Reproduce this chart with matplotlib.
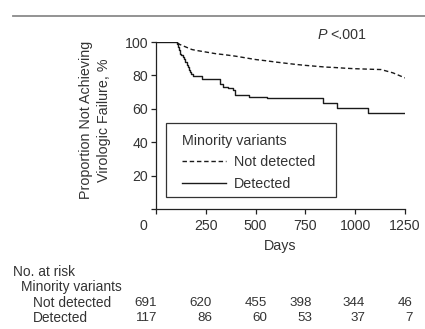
import matplotlib
matplotlib.use('Agg')
import matplotlib.pyplot as plt
from matplotlib.lines import Line2D
from matplotlib.patches import Rectangle
from matplotlib.transforms import ScaledTranslation

plt.rcParams['font.family'] = ['Liberation Sans', 'DejaVu Sans']

# Not detected (dashed) - proportion not failing, %
nd_days = [0, 100, 120, 140, 160, 180, 200, 250, 300, 350, 400, 450, 500, 550, 600,
           650, 700, 750, 800, 850, 900, 950, 1000, 1050, 1100, 1130, 1160, 1190, 1220, 1250]
nd_pct = [100, 100, 98.5, 97.5, 96.5, 95.5, 95, 94, 93, 92.3, 91.5, 90.5, 89.5, 88.8, 88,
          87.3, 86.6, 86, 85.5, 85, 84.7, 84.3, 84, 83.8, 83.6, 83.5, 82.5, 81.5, 80, 78.5]

# Detected (solid, step function)
d_days = [0, 107, 112, 117, 122, 128, 135, 142, 148, 154, 160, 166, 172, 178, 184,
          229, 320, 338, 363, 388, 397, 468, 556, 840, 907, 1066, 1250]
d_pct = [100, 99, 97, 95, 93, 92, 91, 90, 88, 86.5, 85, 83.5, 82, 81, 79.8,
         77.8, 75, 73.2, 72.3, 71.3, 68.3, 67.2, 66.2, 63.7, 60.3, 57.6, 57.6]

xticks = [0, 250, 500, 750, 1000, 1250]
yticks = [0, 20, 40, 60, 80, 100]
ytick_labels = ['', '20', '40', '60', '80', '100']

risk_nd = [691, 620, 455, 398, 344, 46]
risk_d = [117, 86, 60, 53, 37, 7]
risk_x_px = [157, 212, 267, 312, 365, 413]  # right edges of numbers

W, H = 425, 329
txt = '#333333'
fs_tick = 10.2
fs_lab = 10.3
fs_risk = 9.9
fs_num = 9.6
dash = (0, (3.2, 2.0))

fig = plt.figure(figsize=(W / 100, H / 100), dpi=100)
ax = fig.add_axes([156 / W, (H - 209) / H, 249 / W, 167 / H])

ax.plot(nd_days, nd_pct, color='#1a1a1a', lw=1.0, linestyle=dash)
ax.plot(d_days, d_pct, color='#1a1a1a', lw=1.0, drawstyle='steps-post')

ax.set_xlim(0, 1250)
ax.set_ylim(0, 100)
ax.set_xticks(xticks)
ax.set_yticks(yticks)
ax.set_yticklabels(ytick_labels)
ax.spines['top'].set_visible(False)
ax.spines['right'].set_visible(False)
for s in ['left', 'bottom']:
    ax.spines[s].set_color('#222222')
    ax.spines[s].set_linewidth(0.9)
ax.tick_params(direction='out', length=3.5, width=0.9, color='#222222',
               labelsize=fs_tick, labelcolor=txt, pad=2)
ax.tick_params(axis='x', pad=4)

# "0" label sits left of its tick in the original
lab0 = ax.get_xticklabels()[0]
lab0.set_transform(lab0.get_transform() + ScaledTranslation(-0.13, 0, fig.dpi_scale_trans))

ax.set_xlabel('Days', fontsize=fs_lab, color=txt, labelpad=4)

fig.text(86 / W, 1 - 120 / H, 'Proportion Not Achieving', rotation=90,
         ha='center', va='center', fontsize=fs_lab, color=txt)
fig.text(104 / W, 1 - 120 / H, 'Virologic Failure, %', rotation=90,
         ha='center', va='center', fontsize=fs_lab, color=txt)

fig.text(318 / W, 1 - 35 / H, 'P', style='italic', fontsize=fs_lab, color=txt,
         ha='left', va='center')
fig.text(330 / W, 1 - 35 / H, '<.001', fontsize=fs_lab, color=txt, ha='left', va='center')

# legend box drawn separately so the inner padding can match
ax.add_patch(Rectangle((10 / 249, 12 / 167), 170 / 249, 74 / 167, transform=ax.transAxes,
                       fill=False, edgecolor='#333333', lw=0.9, clip_on=False))
handles = [Line2D([], [], color='#1a1a1a', lw=1.0, linestyle=dash),
           Line2D([], [], color='#1a1a1a', lw=1.0)]
leg = ax.legend(handles, ['Not detected', 'Detected'], title='Minority variants',
                loc='upper left', bbox_to_anchor=(26 / 249, 75 / 167),
                borderaxespad=0, borderpad=0, frameon=False,
                fontsize=fs_lab, title_fontsize=fs_lab,
                handlelength=3.1, handletextpad=0.5, labelspacing=0.52,
                alignment='left')
for t in leg.get_texts():
    t.set_color(txt)
leg.get_title().set_color(txt)

# rule at top
fig.add_artist(Line2D([13 / W, 1], [1 - 16 / H, 1 - 16 / H], color='#8a8a8a', lw=1.3))

# risk table
fig.text(13 / W, 1 - 272 / H, 'No. at risk', fontsize=fs_risk, color=txt, va='center')
fig.text(21 / W, 1 - 287 / H, 'Minority variants', fontsize=fs_risk, color=txt, va='center')
fig.text(33 / W, 1 - 303 / H, 'Not detected', fontsize=fs_risk, color=txt, va='center')
fig.text(33 / W, 1 - 318 / H, 'Detected', fontsize=fs_risk, color=txt, va='center')
for xp, a, b in zip(risk_x_px, risk_nd, risk_d):
    fig.text(xp / W, 1 - 303 / H, str(a), fontsize=fs_num, color=txt, ha='right', va='center')
    fig.text(xp / W, 1 - 318 / H, str(b), fontsize=fs_num, color=txt, ha='right', va='center')

fig.savefig('out.png', dpi=100)
